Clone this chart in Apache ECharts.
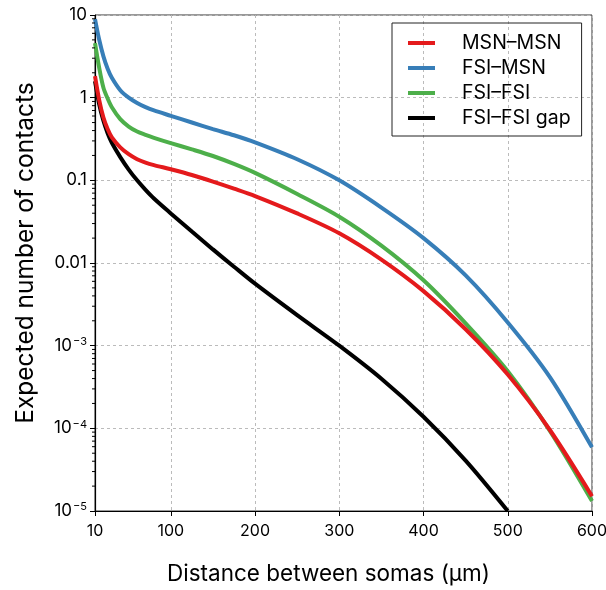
<!DOCTYPE html>
<html>
<head>
<meta charset="utf-8">
<script src="https://cdn.jsdelivr.net/npm/echarts@6/dist/echarts.min.js"></script>
<style>html,body{margin:0;padding:0;background:#fff}#c{width:606px;height:590px}</style>
</head>
<body>
<div id="c"></div>
<script>
const distances = [10, 15, 20, 25, 30, 40, 50, 60, 70, 80, 100, 125, 150, 175, 200, 250, 300, 350, 400, 450, 500, 550, 600];
const msnMsn    = [1.82, 0.933, 0.575, 0.417, 0.331, 0.251, 0.207, 0.180, 0.164, 0.153, 0.136, 0.116, 0.0966, 0.0794, 0.0646, 0.0398, 0.0229, 0.0110, 0.00457, 0.00158, 4.47e-4, 9.55e-5, 1.51e-5];
const fsiMsn    = [8.91, 5.01, 3.16, 2.24, 1.74, 1.23, 1.0, 0.861, 0.767, 0.700, 0.603, 0.501, 0.417, 0.351, 0.288, 0.180, 0.100, 0.0468, 0.0200, 0.00708, 0.00191, 4.17e-4, 5.89e-5];
const fsiFsi    = [4.57, 2.29, 1.32, 0.977, 0.767, 0.550, 0.447, 0.389, 0.355, 0.327, 0.282, 0.237, 0.197, 0.158, 0.123, 0.0684, 0.0363, 0.0162, 0.00617, 0.00186, 4.90e-4, 9.33e-5, 1.32e-5];
const gapDistances = [10, 15, 20, 25, 30, 40, 50, 60, 70, 80, 100, 125, 150, 175, 200, 250, 300, 350, 400, 450, 500];
const fsiFsiGap = [1.585, 0.832, 0.525, 0.372, 0.285, 0.191, 0.135, 0.100, 0.0767, 0.0603, 0.0398, 0.0240, 0.0146, 0.00902, 0.00562, 0.00234, 0.00100, 3.98e-4, 1.38e-4, 4.07e-5, 1.0e-5];
const seriesNames = ['MSN\u2013MSN', 'FSI\u2013MSN', 'FSI\u2013FSI', 'FSI\u2013FSI gap'];
const xTicks = [10, 100, 200, 300, 400, 500, 600];
const yTickValues = [1e-5, 1e-4, 1e-3, 0.01, 0.1, 1, 10];
const yTickTexts = ['10{s|\u22125}', '10{s|\u22124}', '10{s|\u22123}', '0.01', '0.1', '1', '10'];
const minorTickValues = [];
for (let e = -5; e < 1; e++) for (let m = 2; m <= 9; m++) minorTickValues.push(m * Math.pow(10, e));

const FONT = 'Inter';
const colors = ['#e41a1c', '#377eb8', '#4daf4a', '#000000'];
function pairs(xs, ys) { return xs.map((x, i) => [x, ys[i]]); }
function lineSeries(i, xs, ys, z) {
  return { name: seriesNames[i], type: 'line', data: pairs(xs, ys), smooth: 0.3,
    showSymbol: false, lineStyle: { color: colors[i], width: 4 }, itemStyle: { color: colors[i] }, z: z };
}

const chart = echarts.init(document.getElementById('c'));
chart.setOption({
  animation: false,
  textStyle: { fontFamily: FONT },
  grid: { left: 95, right: 14, top: 15, bottom: 79, show: true, borderColor: '#333', borderWidth: 1, outerBoundsMode: 'none', containLabel: false },
  legend: {
    orient: 'vertical', left: 392, top: 23,
    data: seriesNames,
    icon: 'rect', itemWidth: 27, itemHeight: 4, itemGap: 5,
    borderColor: '#222', borderWidth: 1, borderRadius: 0,
    padding: [10, 11, 8, 16],
    textStyle: { fontFamily: FONT, fontSize: 19.5, color: '#000', padding: [0, 0, 0, 22] }
  },
  xAxis: {
    type: 'value', min: 10, max: 600,
    name: 'Distance between somas (\u00b5m)', nameLocation: 'middle', nameGap: 52,
    nameTextStyle: { fontFamily: FONT, fontSize: 22.5, color: '#000', padding: [0, 30, 0, 0] },
    axisLine: { lineStyle: { color: '#000', width: 1.2 } },
    axisTick: { show: true, length: 5, customValues: xTicks, lineStyle: { color: '#000' } },
    axisLabel: { customValues: xTicks, fontSize: 16, color: '#000', margin: 12, fontFamily: FONT },
    splitLine: { show: true, lineStyle: { color: '#bbb', type: [3, 3], width: 1 } }
  },
  yAxis: {
    type: 'log', logBase: 10, min: 1e-5, max: 10,
    name: 'Expected number of contacts', nameLocation: 'middle', nameGap: 57,
    nameTextStyle: { fontFamily: FONT, fontSize: 24.5, color: '#000', padding: [0, 0, 0, 20] },
    axisLine: { show: true, lineStyle: { color: '#000', width: 1.2 } },
    axisTick: { show: true, length: 5, lineStyle: { color: '#000' } },
    axisLabel: {
      fontSize: 17, color: '#000', margin: 8, fontFamily: FONT,
      formatter: function (v) {
        const lv = Math.log10(v);
        let best = 0, bd = 1e9;
        yTickValues.forEach((t, i) => { const d = Math.abs(Math.log10(t) - lv); if (d < bd) { bd = d; best = i; } });
        return yTickTexts[best];
      },
      rich: { s: { fontSize: 11, verticalAlign: 'top', padding: [0, 0, 8, 1], fontFamily: FONT, color: '#000' } }
    },
    splitLine: { show: true, lineStyle: { color: '#bbb', type: [3, 3], width: 1 } }
  },
  series: [
    lineSeries(0, distances, msnMsn, 4),
    lineSeries(1, distances, fsiMsn, 3),
    lineSeries(2, distances, fsiFsi, 2),
    lineSeries(3, gapDistances, fsiFsiGap, 1),
    {
      type: 'custom', clip: false, silent: true, z: 10,
      data: minorTickValues.map(v => [10, v]),
      renderItem: function (params, api) {
        const p = api.coord([api.value(0), api.value(1)]);
        return { type: 'line', shape: { x1: p[0] - 3, y1: p[1], x2: p[0], y2: p[1] }, style: { stroke: '#000', lineWidth: 1 } };
      }
    }
  ]
});
</script>
</body>
</html>
